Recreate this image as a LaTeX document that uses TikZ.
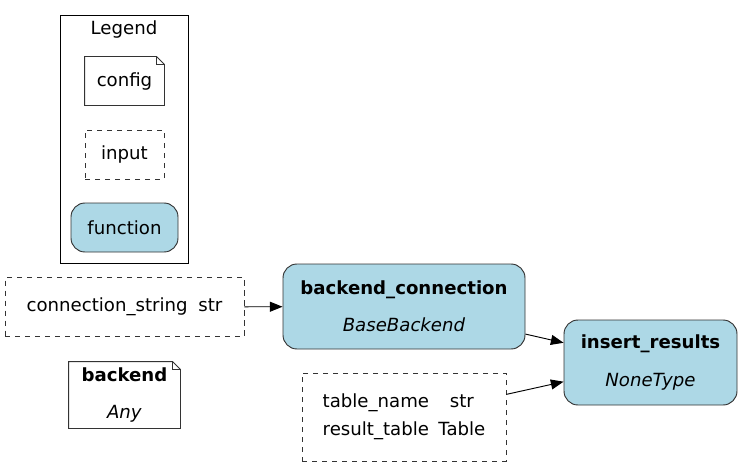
\documentclass[tikz,border=0pt]{standalone}
\usepackage{fontspec}
\setmainfont{DejaVu Sans}
\usetikzlibrary{arrows.meta}
\definecolor{fnblue}{HTML}{ADD8E6}
\definecolor{linegray}{HTML}{333333}
\tikzset{
	box/.style={draw=linegray, line width=0.7pt, inner sep=0pt, font=\fontsize{13.6}{16}\selectfont},
	notebox/.style={box, draw=none},
	inputbox/.style={box, dash pattern=on 4pt off 3.5pt},
	fnbox/.style={box, fill=fnblue, rounded corners=10.5pt},
	edge/.style={draw=black, line width=0.7pt, -{Triangle[length=9.5pt,width=7.5pt]}}
}
\newcommand{\notefold}[1]{
	\draw[draw=linegray, line width=0.7pt] (#1.north west) -- ([xshift=-6pt]#1.north east) -- ([yshift=-6pt]#1.north east) -- (#1.south east) -- (#1.south west) -- cycle;
	\draw[draw=linegray, line width=0.7pt] ([xshift=-6pt]#1.north east) |- ([yshift=-6pt]#1.north east);
}
\begin{document}
\begin{tikzpicture}[x=0.75pt, y=-0.75pt]
		\useasboundingbox (0,0) rectangle (741,467);
		\node[box, draw=black, minimum width=96pt, minimum height=186pt] (legend) at (124,139) {};
		\node[box, draw=none] (legendtitle) at (124,29) {Legend};
		\node[notebox, minimum width=59.25pt, minimum height=36pt] (config) at (124.5,81) {config};
		\notefold{config}
		\node[inputbox, minimum width=59.25pt, minimum height=36.75pt] (input) at (124.5,154.5) {input};
		\node[fnbox, minimum width=80.25pt, minimum height=36.75pt] (function) at (124.5,227.5) {function};
		\node[inputbox, minimum width=179.25pt, minimum height=44.25pt] (connstr) at (124.5,307)
			{\begin{tabular}{@{}l@{\hspace{8pt}}c@{}}connection\_string & str\end{tabular}};
		\node[notebox, minimum width=83.25pt, minimum height=49.5pt, align=center] (backend) at (124.5,395)
			{\textbf{backend}\\[12pt]\textit{Any}};
		\notefold{backend}
		\node[fnbox, minimum width=181.5pt, minimum height=63.75pt, align=center] (bconn) at (404,306.5)
			{\textbf{backend\_connection}\\[12pt]\textit{BaseBackend}};
		\node[fnbox, minimum width=129.75pt, minimum height=63.75pt, align=center] (insert) at (650.5,362.5)
			{\textbf{insert\_results}\\[12pt]\textit{NoneType}};
		\node[inputbox, minimum width=153pt, minimum height=66pt] (tables) at (404,417)
			{\begin{tabular}{@{}l@{\hspace{7pt}}c@{}}table\_name & str\\[5pt] result\_table & Table\end{tabular}};
		\draw[edge] (connstr) -- (bconn);
		\draw[edge] (bconn) -- (insert);
		\draw[edge] (tables) -- (insert);
	\end{tikzpicture}
\end{document}
